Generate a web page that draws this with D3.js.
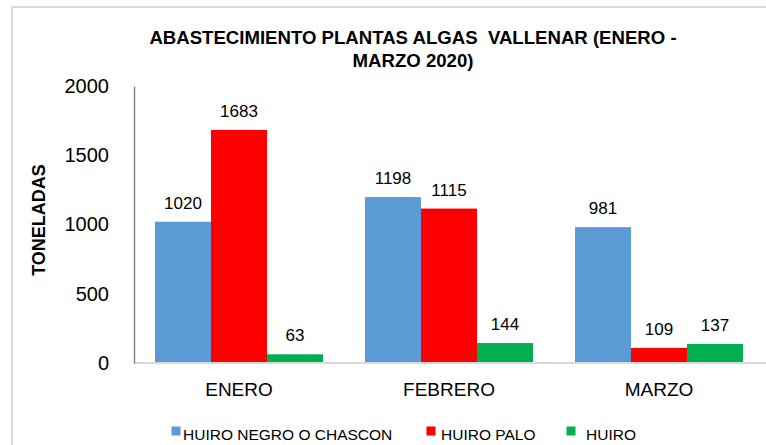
<!DOCTYPE html>
<html>
<head>
<meta charset="utf-8">
<script src="https://cdn.jsdelivr.net/npm/d3@7"></script>
<style>
  html, body { margin: 0; padding: 0; background: #fff; }
  svg { display: block; font-family: "Liberation Sans", Arial, sans-serif; }
</style>
</head>
<body>
<svg id="chart" width="766" height="445"></svg>
<script>
const categories = ["ENERO", "FEBRERO", "MARZO"];
const seriesNames = ["HUIRO NEGRO O CHASCON", "HUIRO PALO", "HUIRO"];
const huiroNegro = [1020, 1198, 981];
const huiroPalo = [1683, 1115, 109];
const huiro = [63, 144, 137];
const seriesColors = ["#5b9bd5", "#ff0000", "#00b050"];
const yTicks = [0, 500, 1000, 1500, 2000];
const titleLines = ["ABASTECIMIENTO PLANTAS ALGAS  VALLENAR (ENERO -", "MARZO 2020)"];
const yTitle = "TONELADAS";

const seriesValues = [huiroNegro, huiroPalo, huiro];

const svg = d3.select("#chart");

// outer frame
svg.append("rect")
  .attr("x", 12).attr("y", 7)
  .attr("width", 800).attr("height", 500)
  .attr("fill", "#fff")
  .attr("stroke", "#d9d9d9").attr("stroke-width", 2);

const x0 = d3.scaleBand().domain(categories).range([134, 764]).paddingInner(0).paddingOuter(0);
const x1 = d3.scaleBand().domain(d3.range(seriesNames.length)).range([0, x0.bandwidth()])
  .paddingInner(0).paddingOuter(0.375);
const y = d3.scaleLinear().domain([0, 2000]).range([363, 86]);

// title
svg.append("g").selectAll("text").data(titleLines).join("text")
  .attr("x", 413).attr("y", (d, i) => 44 + i * 23)
  .attr("text-anchor", "middle")
  .style("white-space", "pre")
  .attr("font-size", "18.6px").attr("font-weight", "bold").attr("fill", "#000")
  .text(d => d);

// bars
const groups = svg.append("g").selectAll("g").data(categories).join("g")
  .attr("transform", d => `translate(${x0(d)},0)`);

groups.selectAll("rect")
  .data((c, ci) => seriesValues.map((vals, si) => ({ si, v: vals[ci] })))
  .join("rect")
  .attr("x", d => x1(d.si))
  .attr("width", x1.bandwidth())
  .attr("y", d => y(d.v))
  .attr("height", d => y(0) - y(d.v))
  .attr("fill", d => seriesColors[d.si]);

groups.selectAll("text.val")
  .data((c, ci) => seriesValues.map((vals, si) => ({ si, v: vals[ci] })))
  .join("text").attr("class", "val")
  .attr("x", d => x1(d.si) + x1.bandwidth() / 2)
  .attr("y", d => y(d.v) - 13)
  .attr("text-anchor", "middle")
  .attr("font-size", "17px").attr("fill", "#000")
  .text(d => d.v);

// x axis baseline
const xAxis = d3.axisBottom(x0).tickSize(0).tickPadding(0);
const gx = svg.append("g").attr("transform", `translate(0,${y(0)})`).call(xAxis);
gx.select(".domain").attr("stroke", "#d9d9d9").attr("stroke-width", 2)
  .attr("d", `M134,0H766`);
gx.selectAll(".tick text")
  .attr("font-size", "19px").attr("fill", "#000")
  .attr("font-family", "'Liberation Sans', Arial, sans-serif")
  .attr("dy", null).attr("y", 33);

// y axis
const yAxis = d3.axisLeft(y).tickValues(yTicks).tickFormat(d3.format("d")).tickSize(0).tickPadding(25);
const gy = svg.append("g").attr("transform", "translate(134,0)").call(yAxis);
gy.select(".domain").attr("stroke", "#868686").attr("stroke-width", 1.5);
gy.selectAll(".tick text")
  .attr("font-size", "20px").attr("fill", "#000")
  .attr("font-family", "'Liberation Sans', Arial, sans-serif");

// y title
svg.append("text")
  .attr("transform", "translate(45,220) rotate(-90)")
  .attr("text-anchor", "middle")
  .attr("font-size", "18px").attr("font-weight", "bold").attr("fill", "#000")
  .text(yTitle);

// legend
const legendX = [171.5, 426.5, 566.5];
const legendTextX = [183, 441, 586];
const lg = svg.append("g").selectAll("g").data(seriesNames).join("g");
lg.append("rect")
  .attr("x", (d, i) => legendX[i]).attr("y", 426.5)
  .attr("width", 9).attr("height", 9)
  .attr("fill", (d, i) => seriesColors[i]);
lg.append("text")
  .attr("x", (d, i) => legendTextX[i]).attr("y", 440)
  .attr("font-size", "15.5px").attr("fill", "#000")
  .text(d => d);
</script>
</body>
</html>
